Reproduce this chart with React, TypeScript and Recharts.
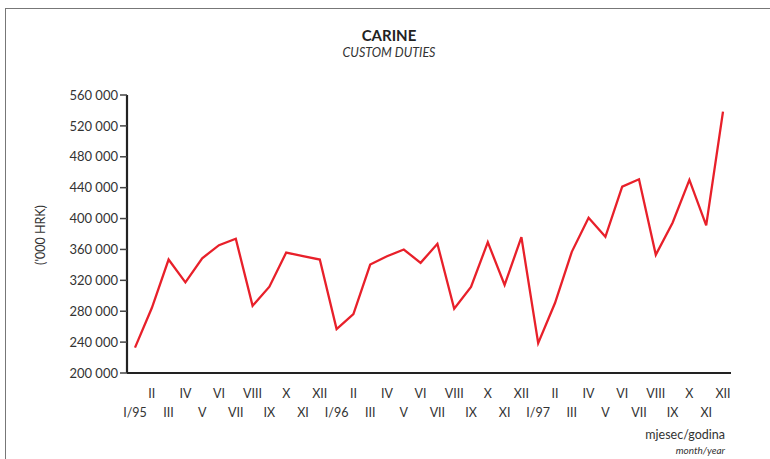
// Carine / custom duties, monthly 1995-1997
import { LineChart, Line, XAxis, YAxis } from "recharts";

const MONTH_LABELS = [
  "I/95", "II", "III", "IV", "V", "VI", "VII", "VIII", "IX", "X", "XI", "XII",
  "I/96", "II", "III", "IV", "V", "VI", "VII", "VIII", "IX", "X", "XI", "XII",
  "I/97", "II", "III", "IV", "V", "VI", "VII", "VIII", "IX", "X", "XI", "XII",
];

// '000 HRK
const DUTIES = [
  232900, 284100, 346900, 317400, 348600, 365500, 373800, 287100, 311800, 356000, 351200, 346900,
  256800, 276300, 340400, 351200, 359900, 342600, 367300, 283200, 311400, 369400, 314000, 375900,
  238600, 290600, 356900, 401100, 376400, 441400, 450900, 353000, 394600, 450000, 391100, 538400,
];

const Y_TICKS = [200000, 240000, 280000, 320000, 360000, 400000, 440000, 480000, 520000, 560000];

const data = MONTH_LABELS.map((m, i) => ({ month: m, value: DUTIES[i] }));

const FONT = "Lato, 'Open Sans', sans-serif";
const TEXT = "#333";

const fmt = (v: number) => {
  const k = Math.round(v / 1000);
  return `${k} 000`;
};

function MonthTick(props: any) {
  const { x, y, payload, index } = props;
  const i = index ?? payload?.index ?? 0;
  const dy = i % 2 === 0 ? 36 : 17;
  return (
    <text x={x} y={y + dy} textAnchor="middle" fontSize={12.5} fill={TEXT} fontFamily={FONT}>
      {payload.value}
    </text>
  );
}

export default function App() {
  return (
    <div style={{ position: "absolute", left: 0, top: 0, width: 770, height: 459, background: "#fff", overflow: "hidden" }}>
      {/* frame */}
      <div style={{ position: "absolute", left: 5, top: 8, width: 780, height: 470, borderLeft: "1.5px solid #777", borderTop: "1.5px solid #777" }} />

      <div style={{ position: "absolute", left: 0, top: 26, width: 778, textAlign: "center", fontFamily: FONT, fontWeight: 700, fontSize: 15, color: "#222" }}>
        CARINE
      </div>
      <div style={{ position: "absolute", left: 0, top: 45, width: 778, textAlign: "center", fontFamily: FONT, fontStyle: "italic", fontSize: 12.5, color: TEXT }}>
        CUSTOM DUTIES
      </div>

      <div style={{ position: "absolute", left: 40, top: 235, transform: "translate(-50%, -50%) rotate(-90deg)", fontFamily: FONT, fontSize: 12.5, color: TEXT, whiteSpace: "nowrap" }}>
        ('000 HRK)
      </div>

      <div style={{ position: "absolute", right: 45, top: 427, fontFamily: FONT, fontSize: 12.5, color: TEXT }}>
        mjesec/godina
      </div>
      <div style={{ position: "absolute", right: 45, top: 444, fontFamily: FONT, fontStyle: "italic", fontSize: 10, color: TEXT }}>
        month/year
      </div>

      <div style={{ position: "absolute", left: 0, top: 0 }}>
        <LineChart width={770} height={459} data={data} margin={{ top: 95, right: 39, bottom: 46, left: 67 }}>
          <XAxis
            dataKey="month"
            interval={0}
            tickLine={false}
            axisLine={{ stroke: "#222", strokeWidth: 2.2 }}
            tick={<MonthTick />}
            padding={{ left: 8, right: 8 }}
            height={40}
          />
          <XAxis
            xAxisId="top"
            orientation="top"
            dataKey="month"
            tick={false}
            tickLine={false}
            axisLine={{ stroke: "#888", strokeWidth: 1.5 }}
            height={0}
          />
          <YAxis
            domain={[200000, 560000]}
            ticks={Y_TICKS}
            tickFormatter={fmt}
            tickSize={7}
            tickLine={{ stroke: "#444", strokeWidth: 1.5 }}
            axisLine={{ stroke: "#222", strokeWidth: 2.2 }}
            tick={{ fontSize: 13, fill: TEXT, fontFamily: FONT }}
            width={60}
            allowDataOverflow
          />
          <YAxis
            yAxisId="right"
            orientation="right"
            tick={false}
            tickLine={false}
            axisLine={{ stroke: "#888", strokeWidth: 1.5 }}
            width={0}
          />
          <Line
            type="linear"
            dataKey="value"
            stroke="#e8202a"
            strokeWidth={2.3}
            dot={false}
            activeDot={false}
            isAnimationActive={false}
          />
        </LineChart>
      </div>
    </div>
  );
}
